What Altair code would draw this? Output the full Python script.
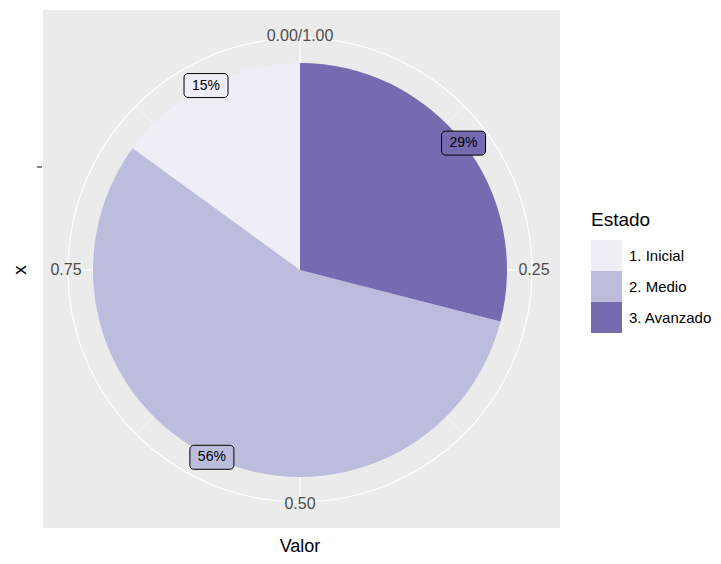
import altair as alt
import pandas as pd

# ---- data ----
estados = ["1. Inicial", "2. Medio", "3. Avanzado"]
valores = [0.15, 0.56, 0.29]
etiquetas = ["15%", "56%", "29%"]
orden = [3, 2, 1]          # clockwise order from 12 o'clock
colores = ["#EFEDF5", "#BCBDDC", "#756BB1"]

breaks = [0, 0.125, 0.25, 0.375, 0.5, 0.625, 0.75, 0.875]
major_breaks = [0, 0.25, 0.5, 0.75]
major_labels = ["0.00/1.00", "0.25", "0.50", "0.75"]

# ---- geometry (chart pixel coords) ----
CX, CY = 292, 262
R_PIE = 207
R_GRID = 232
R_LAB = 234
BOX_W, BOX_H = 44, 24

df = pd.DataFrame({"Estado": estados, "Valor": valores,
                   "Etiqueta": etiquetas, "orden": orden})
grid_df = pd.DataFrame({"b": breaks,
                        "major": [b in major_breaks for b in breaks]})
lab_df = pd.DataFrame({"b": major_breaks, "lab": major_labels})

color_scale = alt.Scale(domain=estados, range=colores)

W, H = 705, 548

bg = alt.Chart(pd.DataFrame({"a": [0]})).mark_rect(color="#EBEBEB").encode(
    x=alt.value(35), x2=alt.value(552), y=alt.value(2), y2=alt.value(520))

grid = alt.Chart(grid_df).transform_calculate(
    x0=f"{CX}", y0=f"{CY}",
    x1=f"{CX} + {R_GRID} * sin(2 * PI * datum.b)",
    y1=f"{CY} - {R_GRID} * cos(2 * PI * datum.b)",
).mark_rule(color="white").encode(
    x=alt.X("x0:Q", scale=None), y=alt.Y("y0:Q", scale=None),
    x2="x1:Q", y2="y1:Q",
    strokeWidth=alt.condition("datum.major", alt.value(1.2), alt.value(0.6)),
)

ring = alt.Chart(pd.DataFrame({"a": [0]})).mark_point(
    shape="circle", filled=False, color="white", strokeWidth=1.2, opacity=1
).encode(x=alt.value(CX), y=alt.value(CY), size=alt.value((2 * R_GRID) ** 2))

pie = alt.Chart(df).mark_arc(radius=R_PIE, stroke=None).encode(
    theta=alt.Theta("Valor:Q", stack=True),
    order=alt.Order("orden:Q"),
    color=alt.Color("Estado:N", scale=color_scale, title="Estado",
                    legend=alt.Legend(orient="none", legendX=583, legendY=203)),
    x=alt.value(CX), y=alt.value(CY),
)

ticklabs = alt.Chart(lab_df).transform_calculate(
    tx=f"{CX} + {R_LAB} * sin(2 * PI * datum.b)",
    ty=f"{CY} - {R_LAB} * cos(2 * PI * datum.b)",
).mark_text(font="Liberation Sans", fontSize=16, color="#4D4D4D").encode(
    x=alt.X("tx:Q", scale=None), y=alt.Y("ty:Q", scale=None), text="lab:N")

base_lab = alt.Chart(df).transform_window(
    cum="sum(Valor)", sort=[alt.SortField("orden")], frame=[None, 0]
).transform_calculate(
    mid="datum.cum - datum.Valor / 2",
).transform_calculate(
    lx=f"{CX} + {R_PIE} * sin(2 * PI * datum.mid)",
    ly=f"{CY} - {R_PIE} * cos(2 * PI * datum.mid)",
).transform_calculate(
    bx0=f"datum.lx - {BOX_W / 2}", bx1=f"datum.lx + {BOX_W / 2}",
    by0=f"datum.ly - {BOX_H / 2}", by1=f"datum.ly + {BOX_H / 2}",
)

boxes = base_lab.mark_rect(cornerRadius=4, stroke="black", strokeWidth=1).encode(
    x=alt.X("bx0:Q", scale=None), x2="bx1:Q",
    y=alt.Y("by0:Q", scale=None), y2="by1:Q",
    fill=alt.Fill("Estado:N", scale=color_scale, legend=None),
)

texts = base_lab.mark_text(font="Liberation Sans", fontSize=14, color="black").encode(
    x=alt.X("lx:Q", scale=None), y=alt.Y("ly:Q", scale=None), text="Etiqueta:N")

one = pd.DataFrame({"a": [0]})
xtitle = alt.Chart(one).mark_text(font="Liberation Sans", fontSize=19, angle=270,
                                  color="black").encode(
    x=alt.value(12), y=alt.value(CY), text=alt.value("x"))
ytitle = alt.Chart(one).mark_text(font="Liberation Sans", fontSize=18,
                                  color="black").encode(
    x=alt.value(CX), y=alt.value(539), text=alt.value("Valor"))
tick = alt.Chart(one).mark_rule(color="#333333", strokeWidth=1.2).encode(
    x=alt.value(29), x2=alt.value(34), y=alt.value(159))

chart = alt.layer(bg, grid, ring, pie, ticklabs, boxes, texts, xtitle, ytitle, tick).properties(
    width=W, height=H, padding=0, autosize=alt.AutoSizeParams(type="none")
).resolve_scale(color="shared").configure_view(stroke=None).configure_legend(
    titleFont="Liberation Sans", titleFontSize=19, titleFontWeight="normal",
    titleColor="black", titlePadding=10,
    labelFont="Liberation Sans", labelFontSize=15, labelColor="black",
    labelOffset=7, symbolType="square", symbolSize=961, symbolStrokeWidth=0,
    rowPadding=0, symbolOpacity=1,
)

chart.save("out.html", embed_options={"renderer": "svg", "actions": False})
